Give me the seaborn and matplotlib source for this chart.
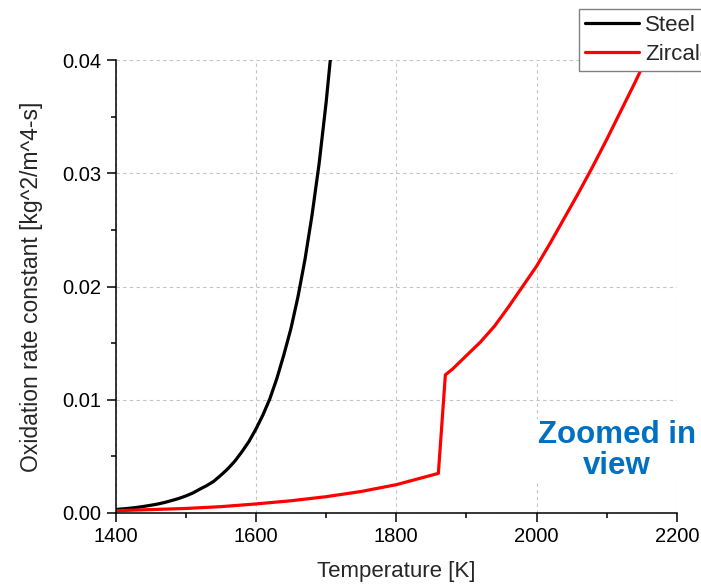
import matplotlib

matplotlib.use("Agg")
import matplotlib.pyplot as plt
import pandas as pd
import seaborn as sns

# values
steel_temp = [1400, 1410, 1420, 1430, 1440, 1450, 1460, 1470, 1480, 1490,
              1500, 1510, 1520, 1530, 1540, 1550, 1560, 1570, 1580, 1590,
              1600, 1610, 1620, 1630, 1640, 1650, 1660, 1670, 1680, 1690,
              1700, 1710]
steel_rate = [0.00031, 0.00036, 0.00042, 0.00049, 0.00058, 0.00068, 0.00079,
              0.00093, 0.0011, 0.00128, 0.0015, 0.00176, 0.0021, 0.00242,
              0.0028, 0.00333, 0.0039, 0.00458, 0.0054, 0.0063, 0.0074,
              0.00865, 0.0101, 0.0119, 0.0140, 0.0163, 0.0191, 0.0224,
              0.0263, 0.0308, 0.0362, 0.0425]

zirc_temp = [1400, 1450, 1500, 1550, 1600, 1650, 1700, 1750, 1800, 1830,
             1860, 1870, 1880, 1890, 1900, 1920, 1940, 1960, 1980, 2000,
             2020, 2040, 2060, 2080, 2100, 2120, 2140, 2160, 2170]
zirc_rate = [0.0002, 0.0003, 0.0004, 0.00056, 0.0008, 0.00108, 0.00144,
             0.0019, 0.0025, 0.0030, 0.0035, 0.0122, 0.0127, 0.0133,
             0.0139, 0.0151, 0.0165, 0.0182, 0.0200, 0.0218, 0.0239,
             0.0261, 0.0283, 0.0306, 0.0330, 0.0355, 0.0380, 0.0406,
             0.0420]

series_names = ["Steel", "Zircaloy"]
series_colors = ["black", "red"]

x_ticks = [1400, 1600, 1800, 2000, 2200]
y_ticks = [0.00, 0.01, 0.02, 0.03, 0.04]

sns.set_theme(style="ticks")
plt.rcParams["font.family"] = ["Liberation Sans", "DejaVu Sans"]

fig = plt.figure(figsize=(7.01, 5.84), dpi=100)
ax = fig.add_axes([115.5 / 701, 1 - 513 / 584, (677 - 115.5) / 701, (513 - 60) / 584])

for name, temp, rate, col in zip(series_names, [steel_temp, zirc_temp],
                                 [steel_rate, zirc_rate], series_colors):
    df = pd.DataFrame({"T": temp, "k": rate})
    sns.lineplot(data=df, x="T", y="k", color=col, lw=2.3, estimator=None,
                 sort=False, label=name, ax=ax, legend=False)

ax.set_xlim(1400, 2200)
ax.set_ylim(0, 0.04)
ax.set_xticks(x_ticks)
ax.set_yticks(y_ticks)
ax.set_xticks([1500, 1700, 1900, 2100], minor=True)
ax.set_yticks([0.005, 0.015, 0.025, 0.035], minor=True)
ax.set_yticklabels([f"{v:.2f}" for v in y_ticks])
ax.tick_params(which="major", length=6.5, width=1.1, labelsize=14.5, pad=3.5,
               color="black", labelcolor="black")
ax.tick_params(which="minor", length=3.5, width=1.1, color="black")
for s in ["top", "right"]:
    ax.spines[s].set_visible(False)
for s in ["left", "bottom"]:
    ax.spines[s].set_linewidth(1.1)
    ax.spines[s].set_color("black")

ax.grid(True, which="major", color="#c4c4c4", ls=(0, (3, 3)), lw=0.8)
ax.set_axisbelow(True)

ax.set_xlabel("Temperature [K]", fontsize=16, labelpad=11)
ax.set_ylabel("Oxidation rate constant [kg^2/m^4-s]", fontsize=16.5, labelpad=14)

ax.text(2114, 0.0055, "Zoomed in\nview", color="#0070C0", fontsize=22.5,
        fontweight="bold", ha="center", va="center", linespacing=1.05,
        clip_on=False, zorder=5,
        bbox=dict(facecolor="white", edgecolor="none", pad=1))

leg = ax.legend(loc="upper left", bbox_to_anchor=(579 / 701, 1 - 9 / 584),
                bbox_transform=fig.transFigure, fontsize=16, frameon=True,
                fancybox=False, framealpha=1, edgecolor="#808080",
                handlelength=2.4, handletextpad=0.3, labelspacing=0.34,
                borderpad=0.28, borderaxespad=0)
leg.get_frame().set_linewidth(1.0)

fig.savefig("out.png", dpi=100)
